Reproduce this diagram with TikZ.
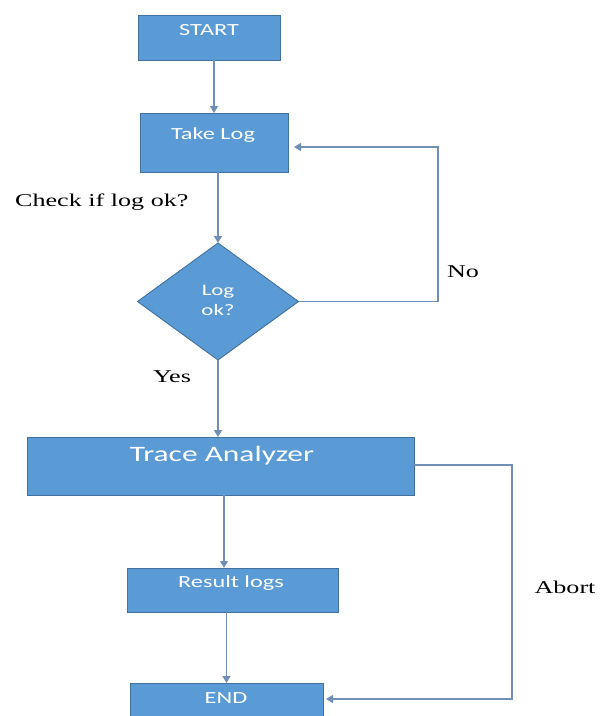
\documentclass[tikz,border=0pt]{standalone}
\usepackage{fontspec}
\usetikzlibrary{shapes.geometric,arrows.meta,calc}
\newfontfamily\boxfont[FakeStretch=1.43]{Carlito}
\newfontfamily\lblfont[FakeStretch=1.45]{Liberation Serif}
\definecolor{boxfill}{HTML}{5B9BD5}
\definecolor{boxline}{HTML}{41719C}
\definecolor{conn}{HTML}{6F8FB8}
\tikzset{
  box/.style={draw=boxline, fill=boxfill, line width=0.9pt, inner sep=0pt, outer sep=0pt},
  dec/.style={diamond, draw=boxline, fill=boxfill, line width=0.9pt, inner sep=0pt, outer sep=0pt},
  boxtxt/.style={text=white, font=\boxfont\fontsize{17}{20}\selectfont, inner sep=0pt},
  lbl/.style={text=black, font=\lblfont\fontsize{18}{21}\selectfont, inner sep=0pt},
  arr/.style={draw=conn, line width=1.2pt, -{Triangle[length=7pt,width=8pt]}}
}
\begin{document}
\begin{tikzpicture}[x=1pt,y=-1pt]
\clip (0,0) rectangle (609,716);
\fill[white] (0,0) rectangle (609,716);
% boxes
\node[box, minimum width=142pt, minimum height=45pt] (start) at (209,37.5) {};
\node[box, minimum width=148pt, minimum height=59pt] (take) at (214,142.5) {};
\node[dec, minimum width=161pt, minimum height=117pt] (dia) at (218,301.5) {};
\node[box, minimum width=387pt, minimum height=58pt] (trace) at (220.5,466) {};
\node[box, minimum width=211pt, minimum height=44pt] (result) at (232.5,590) {};
\node[box, minimum width=193pt, minimum height=36pt] (end) at (226.5,701) {};
% box texts
\node[boxtxt] (tstart) at (209,30) {START};
\node[boxtxt] (ttake) at (213,135) {Take Log};
\node[boxtxt, align=center, font=\boxfont\fontsize{16}{20}\selectfont] (tdia) at (218,300) {Log\\ok?};
\node[boxtxt, font=\boxfont\fontsize{22}{26}\selectfont] (ttrace) at (222,456) {Trace Analyzer};
\node[boxtxt] (tresult) at (231,583) {Result logs};
\node[boxtxt] (tend) at (226,698) {END};
% labels
\node[lbl, anchor=west] (lcheck) at (15,202) {Check if log ok?};
\node[lbl] (lyes) at (172,377) {Yes};
\node[lbl] (lno) at (463,272) {No};
\node[lbl] (labort) at (565,587) {Abort};
% connectors
\draw[arr] (start.south -| take.north) -- (take.north);
\draw[arr] (take.south -| dia.north) -- (dia.north);
\draw[arr] (dia.south) -- (dia.south |- trace.north);
\coordinate (trs) at ($(trace.south)+(3.5,0)$);
\draw[arr] (trs) -- (trs |- result.north);
\draw[arr] (result.south -| end.north) -- (end.north);
\coordinate (noc) at (438,147);
\coordinate (noe) at ($(take.east |- noc)+(6,0)$);
\draw[arr] (dia.east) -| (noc) -- (noe);
\coordinate (abc) at (512,465);
\coordinate (abe) at ($(end.east)+(3,-2)$);
\draw[arr] (trace.east |- abc) -- (abc) |- (abe);
\end{tikzpicture}
\end{document}
